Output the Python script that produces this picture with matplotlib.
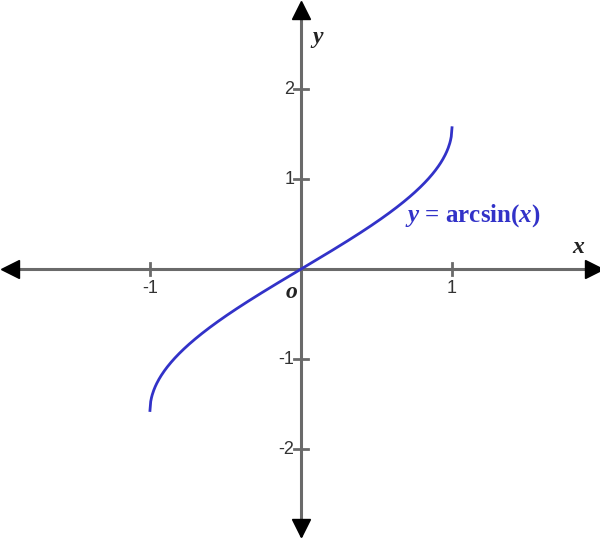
import numpy as np
import matplotlib
matplotlib.use("Agg")
import matplotlib.pyplot as plt

plt.rcParams['mathtext.fontset'] = 'custom'
plt.rcParams['mathtext.it'] = 'Liberation Serif:italic:bold'
plt.rcParams['mathtext.rm'] = 'Liberation Serif:bold'

x_ticks = [-1, 1]
y_ticks = [-2, -1, 1, 2]
x_vals = np.linspace(-1, 1, 401)
y_vals = np.arcsin(x_vals)

fig = plt.figure(figsize=(6, 5.4), dpi=100)
ax = fig.add_axes([0, 0, 1, 1])
ax.set_xlim(-1.993, 1.98)
ax.set_ylim(-3.01, 2.99)
ax.axis('off')

axis_col = '#6a6a6a'
ax.plot([-1.93, 1.96], [0, 0], color=axis_col, lw=2.2, zorder=1)
ax.plot([0, 0], [-2.95, 2.94], color=axis_col, lw=2.2, zorder=1)

# arrow heads
ax.plot([-1.93], [0], marker='<', color='black', ms=13, zorder=3)
ax.plot([1.94], [0], marker='>', color='black', ms=13, zorder=3)
ax.plot([0], [2.88], marker='^', color='black', ms=13, zorder=3)
ax.plot([0], [-2.88], marker='v', color='black', ms=13, zorder=3)

# ticks
for t in x_ticks:
    ax.plot([t, t], [-0.07, 0.07], color=axis_col, lw=2, zorder=1)
    ax.text(t, -0.12, str(t), ha='center', va='top',
            fontsize=13, color='#333333', family='Liberation Sans')
for t in y_ticks:
    ax.plot([-0.045, 0.045], [t, t], color=axis_col, lw=2, zorder=1)
    ax.text(-0.045, t, str(t), ha='right', va='center',
            fontsize=13, color='#333333', family='Liberation Sans')

ax.plot(x_vals, y_vals, color='#3232c8', lw=2, zorder=2)

ax.text(0.11, 2.57, r'$y$', fontsize=17, color='#222222', ha='center', va='center')
ax.text(1.84, 0.26, r'$x$', fontsize=17, color='#222222', ha='center', va='center')
ax.text(-0.06, -0.24, r'$o$', fontsize=17, color='#222222', ha='center', va='center')
ax.text(1.14, 0.6, r'$y$ = arcsin($x$)', fontsize=18, color='#3232c8',
        ha='center', va='center', family='Liberation Serif', weight='bold')

fig.savefig('out.png', dpi=100)
